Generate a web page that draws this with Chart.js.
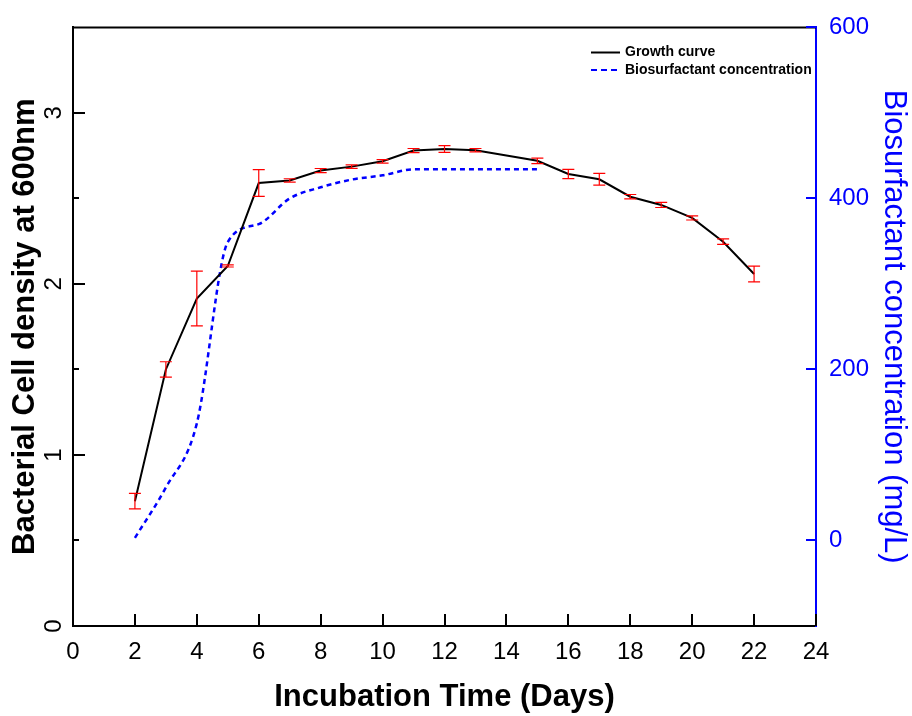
<!DOCTYPE html>
<html>
<head>
<meta charset="utf-8">
<script src="https://cdn.jsdelivr.net/npm/chart.js@4.4.1/dist/chart.umd.min.js"></script>
<style>
  html, body { margin: 0; padding: 0; background: #fff; }
  canvas { display: block; }
</style>
</head>
<body>
<canvas id="growthChart" width="912" height="716"></canvas>
<script>
// Growth curve (OD600) with standard deviation
const days = [2, 3, 4, 5, 6, 7, 8, 9, 10, 11, 12, 13, 15, 16, 17, 18, 19, 20, 21, 22];
const growth = [0.73, 1.50, 1.915, 2.105, 2.59, 2.605, 2.663, 2.686, 2.717, 2.78, 2.789, 2.782,
  2.72, 2.643, 2.612, 2.51, 2.462, 2.386, 2.247, 2.058];
const growthErr = [0.045, 0.045, 0.16, 0.006, 0.078, 0.01, 0.012, 0.01, 0.01, 0.012, 0.02, 0.01,
  0.016, 0.027, 0.034, 0.013, 0.015, 0.012, 0.016, 0.046];

// Biosurfactant concentration (mg/L)
const bioDays = [2, 3, 4, 5, 6, 7, 8, 9, 10, 11, 12, 13, 15];
const biosurfactant = [3, 62, 137, 349, 370, 400, 413, 422, 427, 434, 434, 434, 434];

const FONT = "'Liberation Sans', Arial, Helvetica, sans-serif";

// red error bars with caps
const errorBars = {
  id: "errorBars",
  afterDatasetsDraw(chart) {
    const { ctx, scales: { x, y } } = chart;
    ctx.save();
    ctx.strokeStyle = "#ff0000";
    ctx.lineWidth = 1.2;
    days.forEach((d, i) => {
      const px = x.getPixelForValue(d);
      const top = y.getPixelForValue(growth[i] + growthErr[i]);
      const bot = y.getPixelForValue(growth[i] - growthErr[i]);
      ctx.beginPath();
      ctx.moveTo(px, top); ctx.lineTo(px, bot);
      ctx.moveTo(px - 6, top); ctx.lineTo(px + 6, top);
      ctx.moveTo(px - 6, bot); ctx.lineTo(px + 6, bot);
      ctx.stroke();
    });
    ctx.restore();
  },
};

// inward ticks, rotated left labels, top frame line and the legend
const frame = {
  id: "frame",
  afterDraw(chart) {
    const { ctx, chartArea: a, scales: { x, y, y2 } } = chart;
    ctx.save();
    ctx.lineWidth = 2;

    ctx.strokeStyle = "#000";
    ctx.beginPath();
    ctx.moveTo(a.left - 1, a.top);
    ctx.lineTo(a.right, a.top);
    x.ticks.forEach((t) => {
      const px = Math.round(x.getPixelForValue(t.value));
      ctx.moveTo(px, a.bottom);
      ctx.lineTo(px, a.bottom - 12);
    });
    y.ticks.forEach((t) => {
      const py = Math.round(y.getPixelForValue(t.value));
      if (t.value >= 3.5) return;
      const len = Number.isInteger(t.value) ? 12 : 6;
      ctx.moveTo(a.left, py);
      ctx.lineTo(a.left + len, py);
    });
    ctx.stroke();

    ctx.fillStyle = "#000";
    ctx.font = "24px " + FONT;
    ctx.textAlign = "center";
    ctx.textBaseline = "middle";
    y.ticks.forEach((t) => {
      if (!Number.isInteger(t.value)) return;
      ctx.save();
      ctx.translate(54.5, y.getPixelForValue(t.value));
      ctx.rotate(-Math.PI / 2);
      ctx.fillText(String(t.value), 0, 0);
      ctx.restore();
    });

    ctx.strokeStyle = "#0000ff";
    ctx.beginPath();
    y2.ticks.forEach((t) => {
      if (t.value < 0) return;
      const py = Math.round(y2.getPixelForValue(t.value));
      ctx.moveTo(a.right, py);
      ctx.lineTo(a.right - 10, py);
    });
    ctx.stroke();

    // legend
    ctx.font = "bold 14px " + FONT;
    ctx.textAlign = "left";
    ctx.fillStyle = "#000";
    ctx.strokeStyle = "#000";
    ctx.lineWidth = 2;
    ctx.beginPath();
    ctx.moveTo(591, 52.5);
    ctx.lineTo(620, 52.5);
    ctx.stroke();
    ctx.fillText("Growth curve", 625, 52.5);
    ctx.strokeStyle = "#0000ff";
    ctx.setLineDash([6, 4]);
    ctx.beginPath();
    ctx.moveTo(591, 70);
    ctx.lineTo(620, 70);
    ctx.stroke();
    ctx.setLineDash([]);
    ctx.fillText("Biosurfactant concentration", 625, 70);
    ctx.restore();
  },
};

new Chart(document.getElementById("growthChart"), {
  type: "line",
  data: {
    datasets: [
      {
        label: "Growth curve",
        data: days.map((d, i) => ({ x: d, y: growth[i] })),
        yAxisID: "y",
        borderColor: "#000000",
        borderWidth: 2,
        pointRadius: 0,
        tension: 0,
      },
      {
        label: "Biosurfactant concentration",
        data: bioDays.map((d, i) => ({ x: d, y: biosurfactant[i] })),
        yAxisID: "y2",
        borderColor: "#0000ff",
        borderWidth: 2.5,
        borderDash: [5, 4],
        pointRadius: 0,
        cubicInterpolationMode: "monotone",
      },
    ],
  },
  options: {
    responsive: false,
    animation: false,
    layout: { padding: { top: 27 } },
    plugins: { legend: { display: false }, tooltip: { enabled: false } },
    scales: {
      x: {
        type: "linear",
        min: 0,
        max: 24,
        ticks: { stepSize: 2, color: "#000", font: { family: FONT, size: 24 }, padding: 12 },
        grid: { display: false, drawTicks: false },
        border: { display: true, color: "#000", width: 2 },
        title: {
          display: true,
          text: "Incubation Time (Days)",
          color: "#000",
          font: { family: FONT, size: 31, weight: "bold" },
          padding: { top: 0, bottom: 0 },
        },
        afterFit: (s) => { s.height = 90; },
      },
      y: {
        position: "left",
        min: 0,
        max: 3.5,
        ticks: { stepSize: 0.5, display: false },
        grid: { display: false, drawTicks: false },
        border: { display: true, color: "#000", width: 2 },
        title: {
          display: true,
          text: "Bacterial Cell density at 600nm",
          color: "#000",
          font: { family: FONT, size: 31, weight: "bold" },
          padding: { top: 7, bottom: 0 },
        },
        afterFit: (s) => { s.width = 73; },
      },
      y2: {
        position: "right",
        min: -100,
        max: 600,
        ticks: {
          stepSize: 200,
          color: "#0000ff",
          font: { family: FONT, size: 24 },
          padding: 13,
          callback: (v) => (v < 0 ? "" : v),
        },
        grid: { display: false, drawTicks: false },
        border: { display: true, color: "#0000ff", width: 2 },
        title: {
          display: true,
          text: "Biosurfactant concentration (mg/L)",
          color: "#0000ff",
          font: { family: FONT, size: 31 },
          padding: { top: 0, bottom: 0 },
        },
        afterFit: (s) => { s.width = 96; },
      },
    },
  },
  plugins: [errorBars, frame],
});
</script>
</body>
</html>
